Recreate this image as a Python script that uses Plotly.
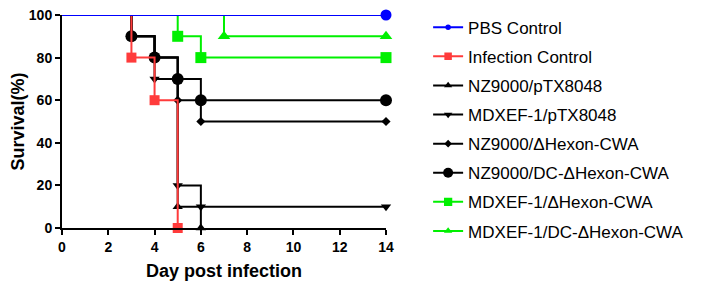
import plotly.graph_objects as go

names = ["PBS Control", "Infection Control", "NZ9000/pTX8048", "MDXEF-1/pTX8048",
         "NZ9000/ΔHexon-CWA", "NZ9000/DC-ΔHexon-CWA", "MDXEF-1/ΔHexon-CWA",
         "MDXEF-1/DC-ΔHexon-CWA"]
days = [
    [0, 14],
    [0, 3, 4, 5],
    [0, 3, 4, 5, 6],
    [0, 3, 4, 5, 6, 14],
    [0, 3, 4, 5, 6, 14],
    [0, 3, 4, 5, 6, 14],
    [0, 5, 6, 14],
    [0, 7, 14],
]
survival = [
    [100, 100],
    [100, 80, 60, 0],
    [100, 90, 80, 10, 0],
    [100, 90, 70, 20, 10, 10],
    [100, 90, 80, 60, 50, 50],
    [100, 90, 80, 70, 60, 60],
    [100, 90, 80, 80],
    [100, 90, 90],
]
colors = ["#0000FF", "#FF3B3B", "#000000", "#000000", "#000000", "#000000", "#00F000", "#00F000"]
symbols = ["circle", "square", "triangle-up", "triangle-down", "diamond", "circle", "square", "triangle-up"]
msizes = [11, 10, 9, 9, 7, 12, 11, 11]

fig = go.Figure()
# draw in reverse so first series sits on top; legendrank keeps legend order
for i in reversed(range(len(names))):
    n = names[i]
    sz = [0] + [msizes[i]] * (len(days[i]) - 1)
    fig.add_trace(go.Scatter(
        x=days[i], y=survival[i], name=n, mode="lines+markers",
        line=dict(color=colors[i], width=2, shape="hv"),
        marker=dict(color=colors[i], symbol=symbols[i], size=sz, opacity=1, line=dict(width=0)),
        cliponaxis=False, legendgroup=n, legendrank=100 + i,
    ))

axis_font = dict(family="Liberation Sans, Arial", size=14, color="black", weight="bold")
fig.update_layout(
    width=694, height=283,
    margin=dict(l=54, r=316, t=7, b=63, autoexpand=False),
    plot_bgcolor="white", paper_bgcolor="white",
    font=dict(family="Liberation Sans, Arial", color="black"),
    legend=dict(x=1.13, xanchor="left", y=1.025, yanchor="top",
                font=dict(size=17, family="Liberation Sans, Arial"),
                tracegroupgap=4, itemwidth=30, maxheight=1.0),
    xaxis=dict(range=[0, 14], tickvals=list(range(0, 15, 2)), showgrid=False, zeroline=False,
               showline=True, linecolor="black", linewidth=2, ticks="outside", ticklen=5,
               tickwidth=2, tickcolor="black", tickfont=axis_font, automargin=False,
               ticklabeloverflow="allow",
               title=dict(text="Day post infection", font=dict(size=18, weight="bold",
                          family="Liberation Sans, Arial"), standoff=11)),
    yaxis=dict(range=[0, 100], tickvals=list(range(0, 101, 20)), showgrid=False, zeroline=False,
               showline=True, linecolor="black", linewidth=2, ticks="outside", ticklen=5,
               tickwidth=2, tickcolor="black", tickfont=axis_font, automargin=False,
               ticklabeloverflow="allow",
               title=dict(text="Survival(%)", font=dict(size=18, weight="bold",
                          family="Liberation Sans, Arial"), standoff=9)),
)
fig.write_html("out.html")
